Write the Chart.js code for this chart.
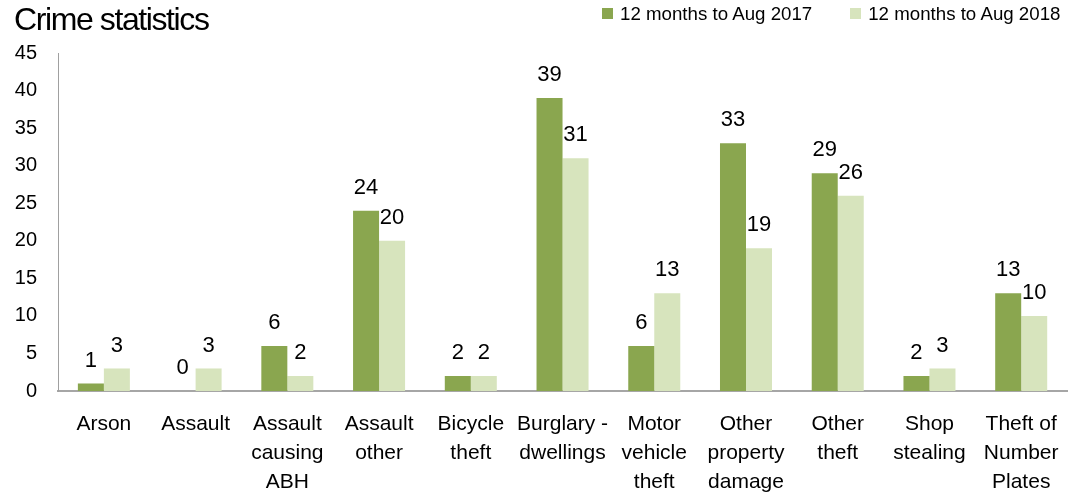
<!DOCTYPE html>
<html>
<head>
<meta charset="utf-8">
<script src="https://cdn.jsdelivr.net/npm/chart.js@4"></script>
<style>
  body { margin: 0; background: #fff; font-family: "Liberation Sans", Arial, sans-serif; }
  #wrap { position: relative; width: 1078px; height: 496px; overflow: hidden; }
  #title { position: absolute; left: 14px; top: 1px; font-size: 32px; letter-spacing: -1.4px; color: #000; }
  #legend { position: absolute; top: 3px; left: 602px; font-size: 18.7px; color: #000; white-space: nowrap; }
  #legend span.item { margin-right: 38px; }
  #legend i { display: inline-block; width: 11px; height: 11px; margin-right: 7px; vertical-align: 1px; }
</style>
</head>
<body>
<div id="wrap">
  <canvas id="crime" width="1078" height="496"></canvas>
  <div id="title">Crime statistics</div>
  <div id="legend"></div>
</div>
<script>
var categories = [
  "Arson",
  "Assault",
  ["Assault", "causing", "ABH"],
  ["Assault", "other"],
  ["Bicycle", "theft"],
  ["Burglary -", "dwellings"],
  ["Motor", "vehicle", "theft"],
  ["Other", "property", "damage"],
  ["Other", "theft"],
  ["Shop", "stealing"],
  ["Theft of", "Number", "Plates"],
];
var year2017 = [1, 0, 6, 24, 2, 39, 6, 33, 29, 2, 13];
var year2018 = [3, 3, 2, 20, 2, 31, 13, 19, 26, 3, 10];
var seriesNames = ["12 months to Aug 2017", "12 months to Aug 2018"];
var colors = ["#8aa64f", "#d7e4bd"];

// value labels above each bar
var barLabels = {
  id: "barLabels",
  afterDatasetsDraw: function (chart) {
    var ctx = chart.ctx;
    ctx.save();
    ctx.font = '22px "Liberation Sans", Arial, sans-serif';
    ctx.fillStyle = "#000";
    ctx.textAlign = "center";
    ctx.textBaseline = "middle";
    chart.data.datasets.forEach(function (ds, i) {
      chart.getDatasetMeta(i).data.forEach(function (bar, j) {
        ctx.fillText(ds.data[j], bar.x, bar.y - 23);
      });
    });
    ctx.restore();
  },
};

var crime = new Chart(document.getElementById("crime"), {
  type: "bar",
  data: {
    labels: categories,
    datasets: [
      {
        label: seriesNames[0],
        data: year2017,
        backgroundColor: colors[0],
        borderWidth: 0,
      },
      {
        label: seriesNames[1],
        data: year2018,
        backgroundColor: colors[1],
        borderWidth: 0,
      },
    ],
  },
  options: {
    responsive: false,
    animation: false,
    layout: { padding: { top: 53, right: 10, left: 0, bottom: 0 } },
    plugins: {
      legend: { display: false },
      title: { display: false },
      tooltip: { enabled: false },
    },
    datasets: { bar: { categoryPercentage: 0.567, barPercentage: 1 } },
    scales: {
      x: {
        grid: { display: false, drawTicks: false },
        border: { display: true, color: "#a6a6a6", width: 2 },
        ticks: {
          color: "#000",
          padding: 19,
          maxRotation: 0,
          autoSkip: false,
          font: { family: '"Liberation Sans", Arial, sans-serif', size: 21, lineHeight: 1.38 },
        },
        afterFit: function (s) { s.height = 105; },
      },
      y: {
        min: 0,
        max: 45,
        grid: { display: false, drawTicks: false },
        border: { display: true, color: "#a0a0a0", width: 1, dash: [2, 2] },
        ticks: {
          stepSize: 5,
          color: "#000",
          padding: 21,
          font: { family: '"Liberation Sans", Arial, sans-serif', size: 20 },
        },
        afterFit: function (s) { s.width = 58; },
      },
    },
  },
  plugins: [barLabels],
});

document.getElementById("legend").innerHTML = seriesNames
  .map(function (n, i) {
    return '<span class="item"><i style="background:' + colors[i] + '"></i>' + n + "</span>";
  })
  .join("");
</script>
</body>
</html>
